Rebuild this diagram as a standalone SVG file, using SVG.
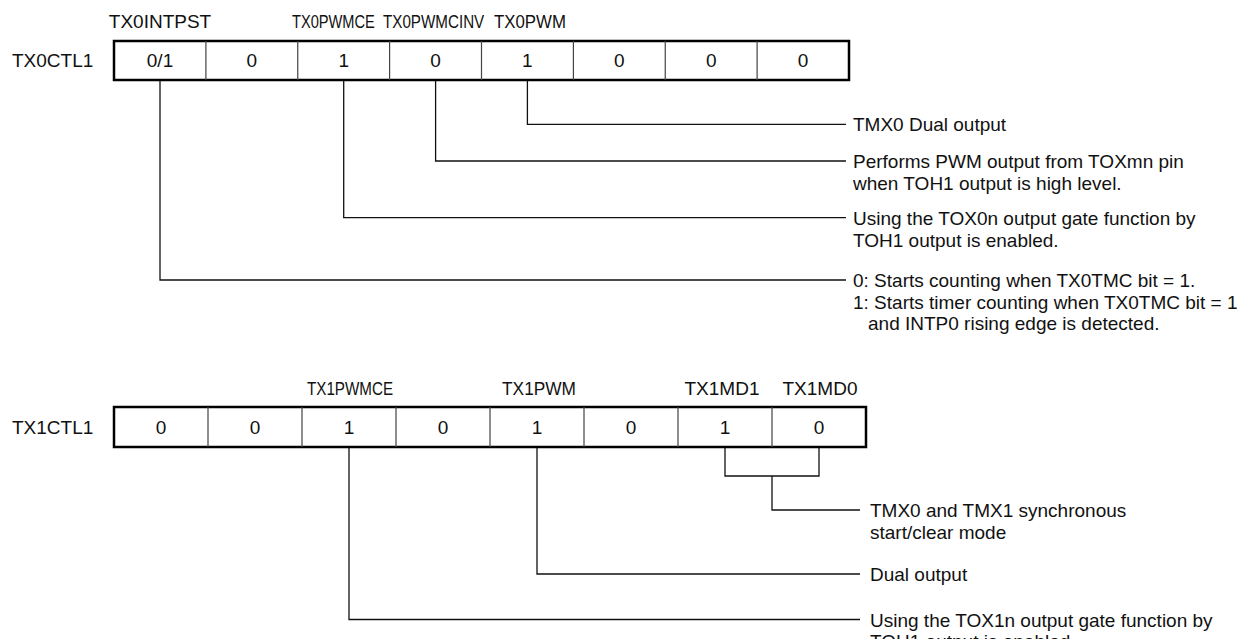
<svg xmlns="http://www.w3.org/2000/svg" width="1244" height="639" viewBox="0 0 1244 639">
<style>
text{font-family:"Liberation Sans",Arial,sans-serif;font-size:19px;fill:#111}
.c{text-anchor:middle}
.box{fill:#fff;stroke:#000;stroke-width:2.5}
.div{stroke:#444;stroke-width:1.2}
.con{fill:none;stroke:#111;stroke-width:1.3}
</style>
<rect width="1244" height="639" fill="#fff"/>
<g id="reg-tx0ctl1">
<text x="12" y="67">TX0CTL1</text>
<text class="c" x="160" y="28">TX0INTPST</text>
<text transform="translate(292 28) scale(0.77 1)">TX0PWMCE</text>
<text transform="translate(383 28) scale(0.8 1)">TX0PWMCINV</text>
<text transform="translate(494 28) scale(0.885 1)">TX0PWM</text>
<rect class="box" x="114" y="41" width="735" height="39"/>
<path class="div" d="M205.9 41V80M297.75 41V80M389.6 41V80M481.5 41V80M573.4 41V80M665.25 41V80M757.1 41V80"/>
<text class="c" x="160" y="67">0/1</text>
<text class="c" x="251.8" y="67">0</text>
<text class="c" x="343.7" y="67">1</text>
<text class="c" x="435.6" y="67">0</text>
<text class="c" x="527.4" y="67">1</text>
<text class="c" x="619.3" y="67">0</text>
<text class="c" x="711.2" y="67">0</text>
<text class="c" x="803.1" y="67">0</text>
</g>
<g id="reg-tx1ctl1">
<text x="12" y="434">TX1CTL1</text>
<text class="c" transform="translate(350 395) scale(0.8 1)">TX1PWMCE</text>
<text class="c" transform="translate(539 395) scale(0.91 1)">TX1PWM</text>
<text class="c" x="722" y="395">TX1MD1</text>
<text class="c" x="820" y="395">TX1MD0</text>
<rect class="box" x="114" y="407" width="752" height="40"/>
<path class="div" d="M208 407V447M302 407V447M396 407V447M490 407V447M584 407V447M678 407V447M772 407V447"/>
<text class="c" x="161" y="434">0</text>
<text class="c" x="255" y="434">0</text>
<text class="c" x="349" y="434">1</text>
<text class="c" x="443" y="434">0</text>
<text class="c" x="537" y="434">1</text>
<text class="c" x="631" y="434">0</text>
<text class="c" x="725" y="434">1</text>
<text class="c" x="819" y="434">0</text>
</g>
<g id="connectors">
<path class="con" d="M160 81V280H846"/>
<path class="con" d="M343.7 81V217.7H846"/>
<path class="con" d="M435.6 81V161H846"/>
<path class="con" d="M527.4 81V124.3H846"/>
<path class="con" d="M349 448V619.5H860"/>
<path class="con" d="M537 448V574H860"/>
<path class="con" d="M725 448V476H819V448"/>
<path class="con" d="M772 476V510H860"/>
</g>
<g id="desc-tx0pwm"><text x="853" y="131">TMX0 Dual output</text></g>
<g id="desc-tx0pwmcinv"><text x="853" y="168">Performs PWM output from TOXmn pin</text><text x="853" y="189.5">when TOH1 output is high level.</text></g>
<g id="desc-tx0pwmce"><text x="853" y="225">Using the TOX0n output gate function by</text><text x="853" y="246.5">TOH1 output is enabled.</text></g>
<g id="desc-tx0intpst"><text x="853" y="287">0: Starts counting when TX0TMC bit = 1.</text><text x="853" y="308.5">1: Starts timer counting when TX0TMC bit = 1</text><text x="868" y="330">and INTP0 rising edge is detected.</text></g>
<g id="desc-tx1md"><text x="870" y="517">TMX0 and TMX1 synchronous</text><text x="870" y="538.5">start/clear mode</text></g>
<g id="desc-tx1pwm"><text x="870" y="581">Dual output</text></g>
<g id="desc-tx1pwmce"><text x="870" y="626.5">Using the TOX1n output gate function by</text><text x="870" y="648">TOH1 output is enabled.</text></g>
</svg>
